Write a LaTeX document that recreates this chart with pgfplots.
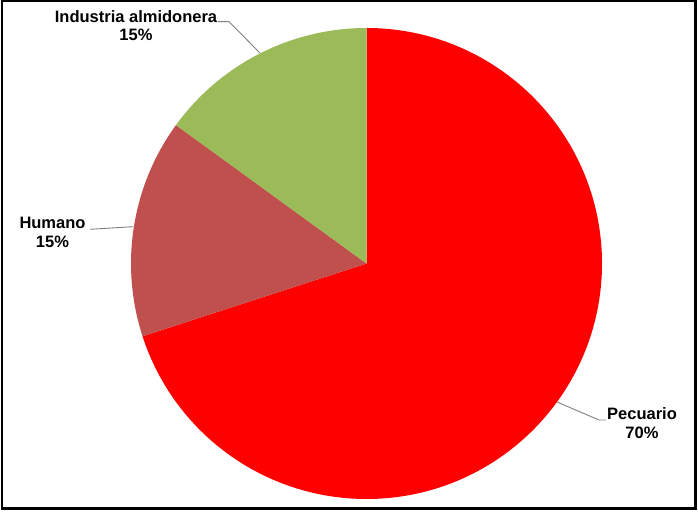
\documentclass[border=0pt]{standalone}
\usepackage{pgfplots}
\pgfplotsset{compat=1.18}
\usepackage{fontspec}
\setmainfont{Liberation Sans}
\definecolor{pec}{HTML}{FF0000}
\definecolor{hum}{HTML}{C0504D}
\definecolor{ind}{HTML}{9BBB59}
\definecolor{lead}{HTML}{808080}
\begin{document}
\begin{tikzpicture}
\begin{axis}[hide axis, scale only axis, width=698bp, height=512bp,
  xmin=0, xmax=698, ymin=0, ymax=512, clip=false]
\path (axis cs:0,0) rectangle (axis cs:698,512);
% shares: Pecuario 70, Humano 15, Industria almidonera 15 (clockwise from top)
\fill[pec] (axis cs:366.5,248.5) -- (axis cs:366.5,484) arc[start angle=90, end angle={90-3.6*70}, radius=235.5] -- cycle;
\fill[hum] (axis cs:366.5,248.5) -- ++({90-3.6*70}:235.5) arc[start angle={90-3.6*70}, end angle={90-3.6*85}, radius=235.5] -- cycle;
\fill[ind] (axis cs:366.5,248.5) -- ++({90-3.6*85}:235.5) arc[start angle={90-3.6*85}, end angle={90-3.6*100}, radius=235.5] -- cycle;
% leader lines
\draw[lead, line width=0.9bp] (axis cs:218,490.3) -- (axis cs:229,490.3) -- (axis cs:260,459);
\draw[lead, line width=0.9bp] (axis cs:90,282.7) -- (axis cs:133,285.3);
\draw[lead, line width=0.9bp] (axis cs:557,110) -- (axis cs:599,92) -- (axis cs:606,92);
% labels
\node[align=center, font=\fontsize{16.5bp}{18.5bp}\selectfont\bfseries] at (axis cs:136,486.5) {Industria almidonera\\15\%};
\node[align=center, font=\fontsize{16.5bp}{18.5bp}\selectfont\bfseries] at (axis cs:52.5,279.5) {Humano\\15\%};
\node[align=center, font=\fontsize{16.5bp}{18.5bp}\selectfont\bfseries] at (axis cs:642,89) {Pecuario\\70\%};
% frame
\draw[black, line width=2.2bp] (axis cs:2,3.5) rectangle (axis cs:695.5,510.8);
\end{axis}
\end{tikzpicture}
\end{document}
